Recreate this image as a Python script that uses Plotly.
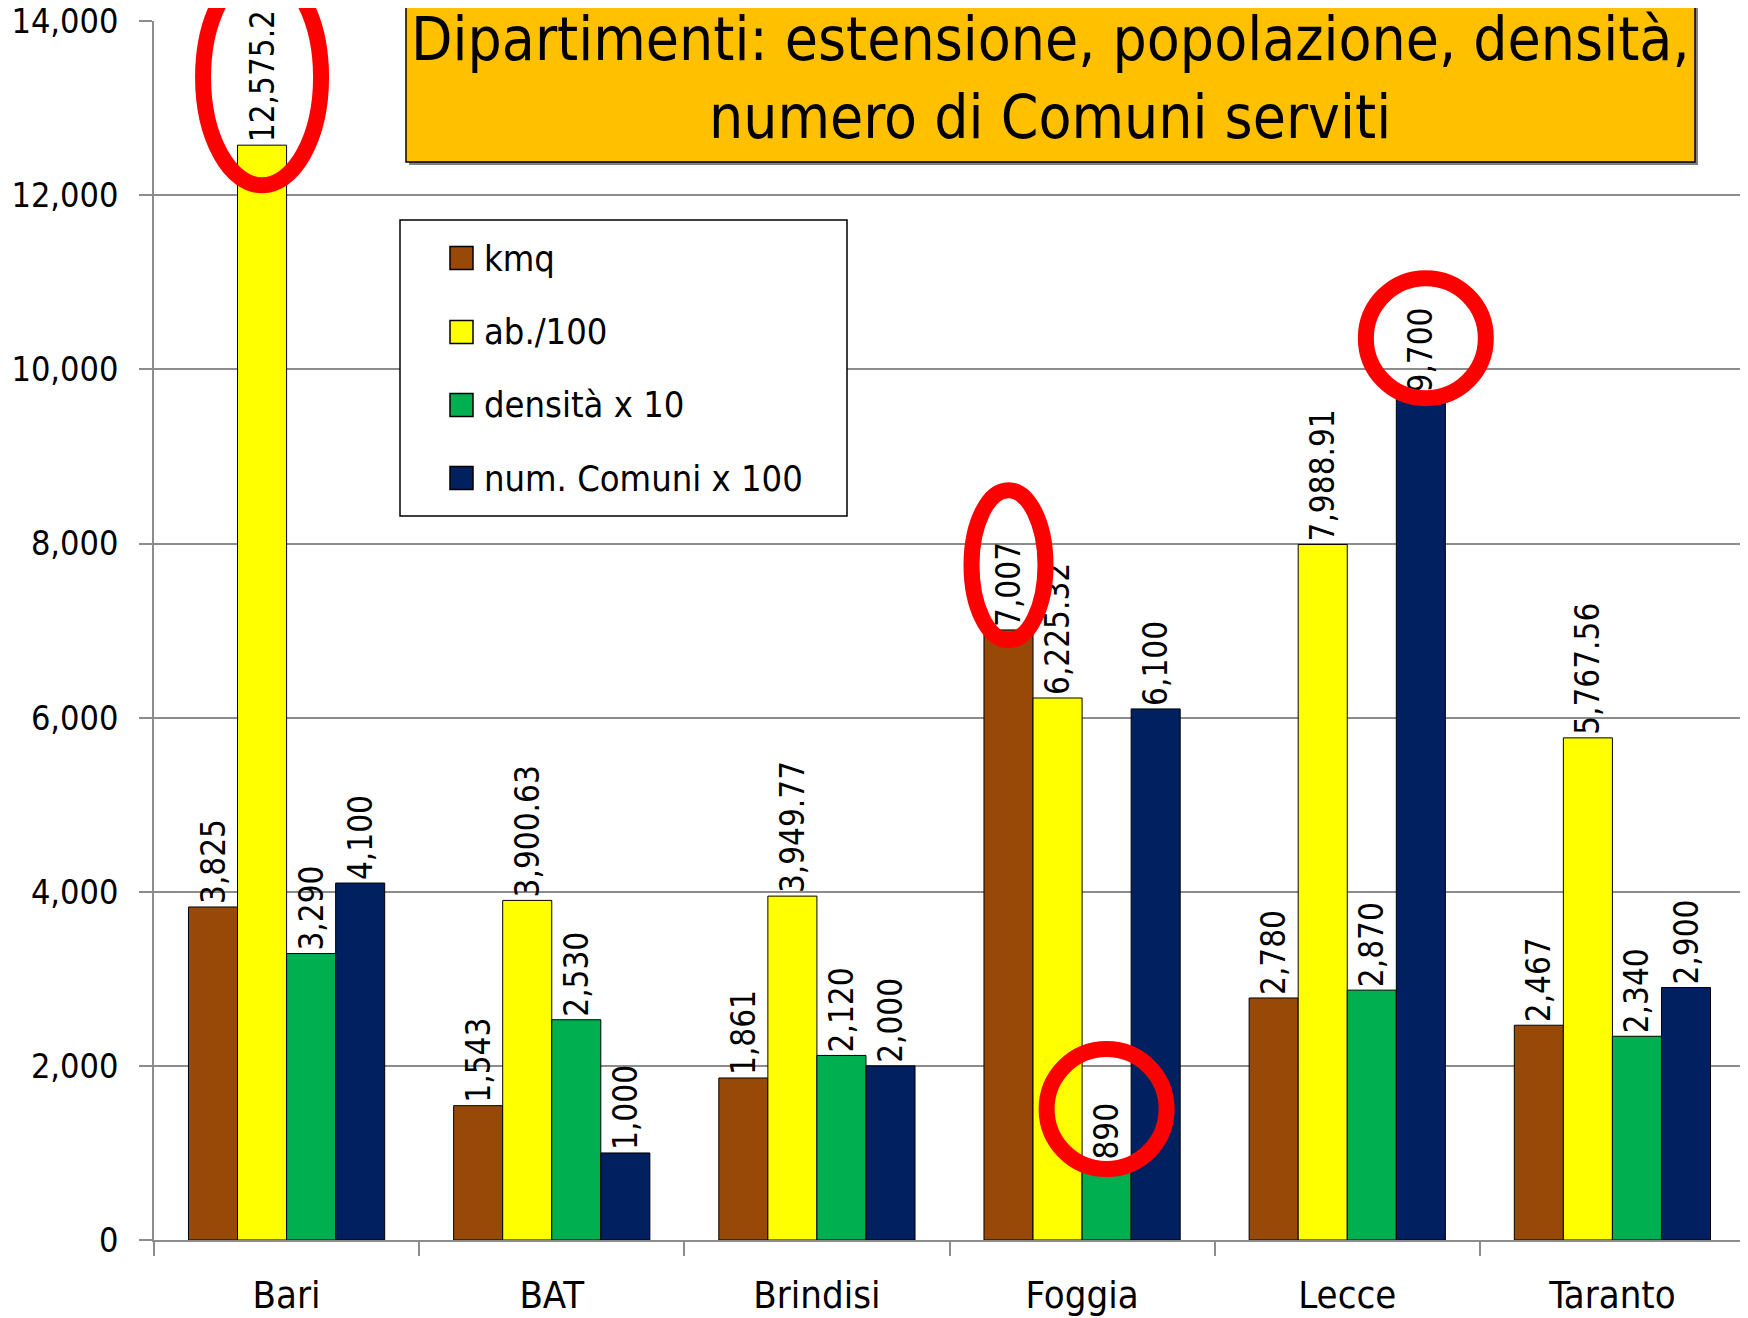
import plotly.graph_objects as go

# ---- data ----
categories = ["Bari", "BAT", "Brindisi", "Foggia", "Lecce", "Taranto"]
series_names = ["kmq", "ab./100", "densità x 10", "num. Comuni x 100"]
kmq = [3825, 1543, 1861, 7007, 2780, 2467]
ab_100 = [12575.20, 3900.63, 3949.77, 6225.32, 7988.91, 5767.56]
densita_x10 = [3290, 2530, 2120, 890, 2870, 2340]
comuni_x100 = [4100, 1000, 2000, 6100, 9700, 2900]
y_ticks = [0, 2000, 4000, 6000, 8000, 10000, 12000, 14000]

series_values = [kmq, ab_100, densita_x10, comuni_x100]
series_fmt = ["{:,.0f}", "{:,.2f}", "{:,.0f}", "{:,.0f}"]
colors = ["#984807", "#FFFF00", "#00B050", "#002060"]

FONT = "Liberation Sans Narrow, Arial Narrow, DejaVu Sans Condensed, sans-serif"

OFF = 8  # page body margin
W, H = 1748 - OFF, 1318 - OFF
ML, MR, MT, MB = 154 - OFF, 3, 21 - OFF, 78
PW, PH = W - ML - MR, H - MT - MB
YMAX = 14000
BARGAP = 0.26

fig = go.Figure()
for name, vals, fmt, col in zip(series_names, series_values, series_fmt, colors):
    fig.add_trace(go.Bar(
        x=categories, y=vals, name=name,
        marker=dict(color=col, line=dict(color="black", width=1)),
        text=[fmt.format(v) for v in vals],
        textposition="outside", textangle=-90,
        textfont=dict(family=FONT, size=33, color="black"),
        constraintext="none", cliponaxis=False, showlegend=False,
    ))

# helpers: data -> paper coords (screen pixels include the page offset)
bw = (1 - BARGAP) / len(series_names)
def xpaper(ci, si, dx_px=0):
    xc = ci + (-1.5 + si) * bw
    return (xc + 0.5) / len(categories) + dx_px / PW
def ypaper(v):
    return v / YMAX
def ypx_to_paper(py):  # screen pixel from top
    return (H - MB - (py - OFF)) / PH
def xpx_to_paper(px):
    return (px - OFF - ML) / PW

shapes = []
# title box (shadow + box)
shapes.append(dict(type="rect", xref="paper", yref="paper",
                   x0=xpx_to_paper(409), x1=xpx_to_paper(1698),
                   y0=ypx_to_paper(165), y1=1.1,
                   fillcolor="#7F7F7F", line=dict(width=0), layer="above"))
shapes.append(dict(type="rect", xref="paper", yref="paper",
                   x0=xpx_to_paper(406), x1=xpx_to_paper(1695),
                   y0=ypx_to_paper(162), y1=1.1,
                   fillcolor="#FFC000", line=dict(color="black", width=1.5), layer="above"))

# legend box
shapes.append(dict(type="rect", xref="paper", yref="paper",
                   x0=xpx_to_paper(400), x1=xpx_to_paper(847),
                   y0=ypx_to_paper(516), y1=ypx_to_paper(220),
                   fillcolor="white", line=dict(color="black", width=1.5), layer="above"))
annotations = []
legend_rows = [258, 332, 405, 478]
for name, col, ry in zip(series_names, colors, legend_rows):
    shapes.append(dict(type="rect", xref="paper", yref="paper",
                       x0=xpx_to_paper(450), x1=xpx_to_paper(473),
                       y0=ypx_to_paper(ry + 11.5), y1=ypx_to_paper(ry - 11.5),
                       fillcolor=col, line=dict(color="black", width=1.5), layer="above"))
    annotations.append(dict(xref="paper", yref="paper", x=xpx_to_paper(482), y=ypx_to_paper(ry),
                            xanchor="left", yanchor="middle", text=name, showarrow=False,
                            font=dict(family=FONT, size=36, color="black")))

# title
annotations.append(dict(xref="paper", yref="paper", x=xpx_to_paper(1050), y=ypx_to_paper(39),
                        xanchor="center", yanchor="middle", showarrow=False,
                        text="Dipartimenti: estensione, popolazione, densità,",
                        font=dict(family=FONT, size=60, color="black")))
annotations.append(dict(xref="paper", yref="paper", x=xpx_to_paper(1050), y=ypx_to_paper(117),
                        xanchor="center", yanchor="middle", showarrow=False,
                        text="numero di Comuni serviti",
                        font=dict(family=FONT, size=60, color="black")))

# red highlight ellipses: (category idx, series idx, center value, half-w px, half-h px, dx px)
ellipses = [
    (0, 1, 13353, 59, 108, 0),
    (4, 3, 10357, 60, 60, 5),
    (3, 0, 7750, 37, 75, 0),
    (3, 2, 1504, 60, 60, 0),
]
for ci, si, vc, hw, hh, dx in ellipses:
    xc = xpaper(ci, si, dx)
    yc = ypaper(vc)
    shapes.append(dict(type="circle", xref="paper", yref="paper",
                       x0=xc - hw / PW, x1=xc + hw / PW,
                       y0=yc - hh / PH, y1=yc + hh / PH,
                       line=dict(color="#FF0000", width=16), layer="above"))

fig.update_layout(
    width=W, height=H,
    margin=dict(l=ML, r=MR, t=MT, b=MB),
    paper_bgcolor="white", plot_bgcolor="white",
    barmode="group", bargap=BARGAP, bargroupgap=0,
    font=dict(family=FONT, size=36, color="black"),
    shapes=shapes, annotations=annotations,
    showlegend=False,
)
fig.update_xaxes(
    type="category", range=[-0.5, len(categories) - 0.5], automargin=False,
    showline=True, linecolor="#8C8C8C", linewidth=2,
    ticks="outside", tickson="boundaries", ticklen=14, tickcolor="#8C8C8C", tickwidth=1.5,
    showgrid=False, tickfont=dict(family=FONT, size=38, color="black"),
    ticklabelstandoff=20,
)
fig.update_yaxes(
    range=[0, YMAX * 1.0001], tickvals=y_ticks, tickformat=",d", automargin=False,
    showgrid=True, gridcolor="#8C8C8C", gridwidth=1.5,
    showline=True, linecolor="#8C8C8C", linewidth=1.5,
    ticks="outside", ticklen=13, tickcolor="#8C8C8C", tickwidth=1.5,
    zeroline=False, tickfont=dict(family=FONT, size=34, color="black"),
    ticklabelstandoff=14, ticklabeloverflow="allow",
)

fig.write_html("out.html")
